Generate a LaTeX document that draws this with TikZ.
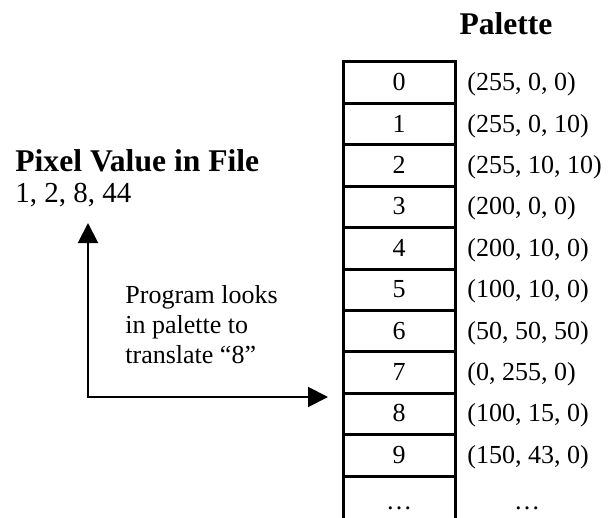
\documentclass[tikz,border=0pt]{standalone}
\usepackage{fontspec}
\setmainfont{Liberation Serif}
\usetikzlibrary{arrows.meta}

\begin{document}
\begin{tikzpicture}[x=0.5pt,y=-0.5pt]
\tikzset{
  cell/.style={rectangle,draw,line width=1.5pt,minimum width=56pt,minimum height=20.7pt,inner sep=0pt,text height=8pt,text depth=0pt,font=\fontsize{13}{15}\selectfont},
  rgbval/.style={anchor=west,inner sep=0pt,text height=8pt,text depth=0pt,font=\fontsize{13}{15}\selectfont},
  heading/.style={inner sep=0pt,font=\fontsize{15.8}{18}\selectfont\bfseries},
  plain/.style={inner sep=0pt,font=\fontsize{13}{15}\selectfont},
  lookup/.style={{Triangle[length=10pt,width=10pt]}-{Triangle[length=10pt,width=10pt]},line width=1pt}
}
\clip (0,0) rectangle (609,518);
\node[heading,anchor=base] (t_pal) at (506,35) {Palette};
\node[heading,anchor=base west] (t_pix) at (15,172) {Pixel Value in File};
\node[plain,anchor=base west,font=\fontsize{14.5}{17}\selectfont] (pixvals) at (15,202) {1, 2, 8, 44};
% palette entries
\node[cell] (c0) at (399,82.7) {0};
\node[cell] (c1) at (399,124.1) {1};
\node[cell] (c2) at (399,165.5) {2};
\node[cell] (c3) at (399,206.9) {3};
\node[cell] (c4) at (399,248.3) {4};
\node[cell] (c5) at (399,289.7) {5};
\node[cell] (c6) at (399,331.1) {6};
\node[cell] (c7) at (399,372.5) {7};
\node[cell] (c8) at (399,413.9) {8};
\node[cell] (c9) at (399,455.3) {9};
\node[cell,minimum height=25pt] (c10) at (399,501) {\dots};
\node[rgbval] (v0) at (467,82.7) {(255, 0, 0)};
\node[rgbval] (v1) at (467,124.1) {(255, 0, 10)};
\node[rgbval] (v2) at (467,165.5) {(255, 10, 10)};
\node[rgbval] (v3) at (467,206.9) {(200, 0, 0)};
\node[rgbval] (v4) at (467,248.3) {(200, 10, 0)};
\node[rgbval] (v5) at (467,289.7) {(100, 10, 0)};
\node[rgbval] (v6) at (467,331.1) {(50, 50, 50)};
\node[rgbval] (v7) at (467,372.5) {(0, 255, 0)};
\node[rgbval] (v8) at (467,413.9) {(100, 15, 0)};
\node[rgbval] (v9) at (467,455.3) {(150, 43, 0)};
\node[rgbval,anchor=center] (v10) at (527,501) {\dots};
% lookup arrow
\node[plain,anchor=north west,align=left] (note) at (125,285) {Program looks\\in palette to\\translate “8”};
\coordinate (pixtip) at (88,223);
\coordinate (lookin) at (328,397);
\draw[lookup] (pixtip) |- (lookin);
\end{tikzpicture}
\end{document}
